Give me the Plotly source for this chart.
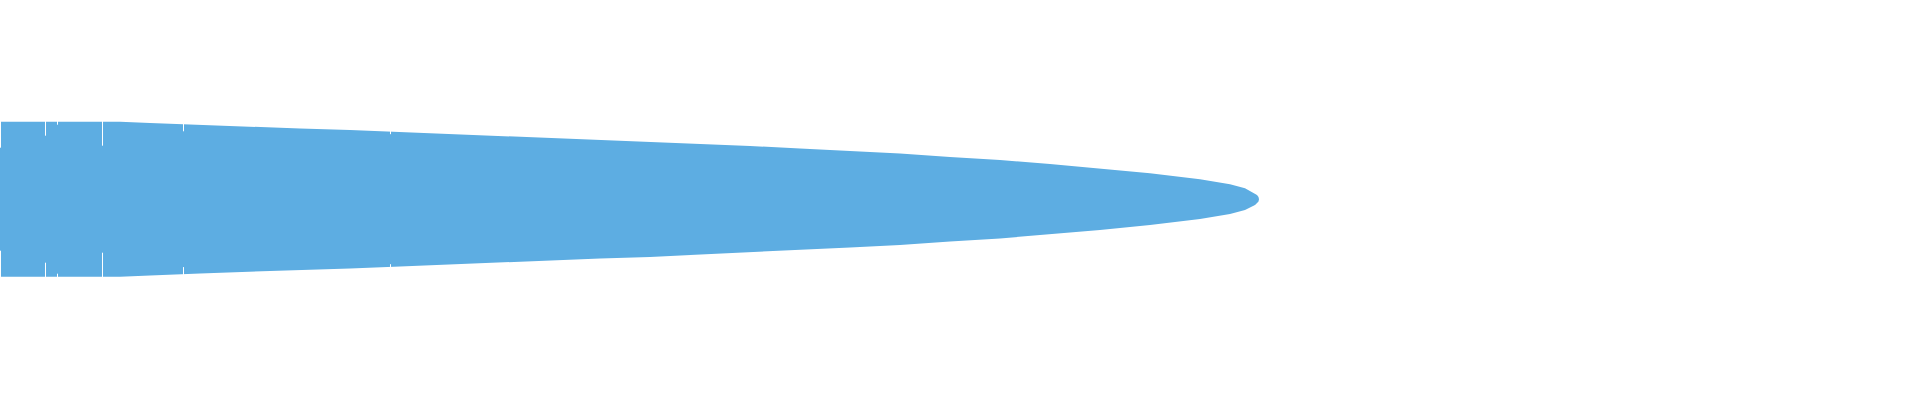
import plotly.graph_objects as go

# position along the horizontal axis and half-thickness of the band at that position
position = [0, 120, 150, 200, 250, 300, 350, 400, 450, 500, 550, 600, 650, 700,
            750, 800, 850, 900, 950, 1000, 1050, 1100, 1150, 1200, 1230, 1245,
            1255, 1257, 1258.5, 1259]
half_width = [77.5, 77.5, 76.2, 74.2, 72.4, 70.7, 69.2, 67.2, 65.5, 63.2, 61.2,
              59.4, 57.7, 55.5, 53.2, 50.7, 48.2, 45.7, 42.3, 39.2, 35.2, 30.9,
              25.9, 19.9, 14.9, 10.9, 5.9, 4.2, 2.2, 0.0]

# thin white gaps that cut into the band near its wide end
gap_position = [0.5, 45.5, 57.5, 102.5, 183.5, 390.5]
gap_edge = [77.5, 77.5, 77.5, 77.5, 74.9, 67.5]
gap_depth = [26, 14, 3, 24, 7, 2.5]

blue = "#5DADE2"

# outline: top edge left->right, then bottom edge right->left
xs = position + position[::-1]
ys = half_width + [-v for v in half_width[::-1]]

fig = go.Figure()
fig.add_trace(
    go.Scatter(
        x=xs,
        y=ys,
        mode="lines",
        fill="toself",
        fillcolor=blue,
        line=dict(color=blue, width=0),
        hoverinfo="skip",
        showlegend=False,
    )
)

gx, gy = [], []
for px, edge, depth in zip(gap_position, gap_edge, gap_depth):
    gx += [px, px, None, px, px, None]
    gy += [edge + 1, edge - depth, None, -edge - 1, -edge + depth, None]

fig.add_trace(
    go.Scatter(
        x=gx,
        y=gy,
        mode="lines",
        line=dict(color="white", width=1),
        hoverinfo="skip",
        showlegend=False,
    )
)

fig.update_layout(
    width=1920,
    height=400,
    margin=dict(l=0, r=0, t=0, b=0, pad=0),
    paper_bgcolor="white",
    plot_bgcolor="white",
    showlegend=False,
)
fig.update_xaxes(range=[0, 1920], visible=False, fixedrange=True)
fig.update_yaxes(range=[-200.8, 199.2], visible=False, fixedrange=True)

# page body has a default 8px margin; drop it so the plot sits at the window corner
fig.write_html(
    "out.html",
    config={"displayModeBar": False},
    post_script="document.body.style.margin='0';document.documentElement.style.overflow='hidden';",
)
